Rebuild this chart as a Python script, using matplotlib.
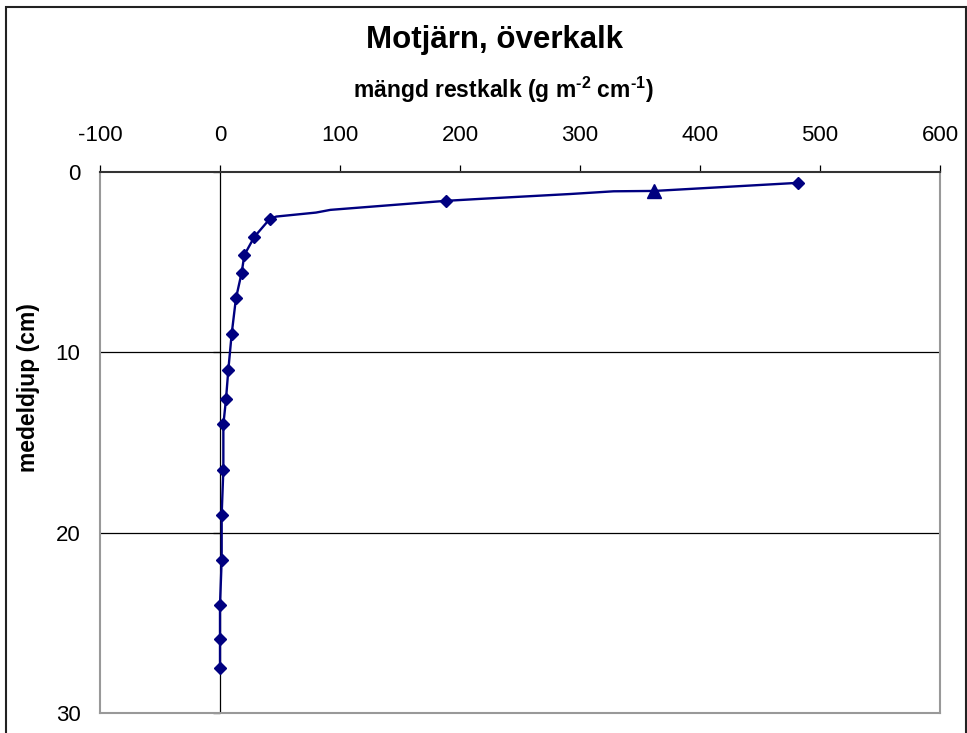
import matplotlib.pyplot as plt
import matplotlib.patches as patches
from matplotlib.markers import TICKLEFT
import numpy as np

plt.rcParams['font.family'] = ['Liberation Sans', 'DejaVu Sans']
plt.rcParams['axes.unicode_minus'] = False
plt.rcParams['mathtext.fontset'] = 'custom'
plt.rcParams['mathtext.bf'] = 'Liberation Sans:bold'
plt.rcParams['mathtext.rm'] = 'Liberation Sans:bold'
plt.rcParams['mathtext.default'] = 'bf'

# measured profile (diamonds)
restkalk = [482, 188, 41.5, 28.6, 20.3, 18, 13.3, 9.7, 6.9, 5, 2.8, 2.8, 1.4, 1.4, 0, 0, 0]
djup = [0.6, 1.6, 2.6, 3.6, 4.6, 5.6, 7.0, 9.0, 11.0, 12.6, 14.0, 16.5, 19.0, 21.5, 24.0, 25.9, 27.5]

# separate sample (triangle)
restkalk_tri = [362]
djup_tri = [1.07]

# profile line
linje_x = [482, 362, 328, 292, 217, 188, 92, 80, 47, 41.5, 28.6, 20.3, 18, 13.3, 9.7,
           6.9, 5, 2.8, 2.8, 1.4, 1.4, 0, 0, 0]
linje_y = [0.6, 1.05, 1.07, 1.22, 1.49, 1.6, 2.1, 2.25, 2.47, 2.6, 3.6, 4.6, 5.6, 7.0, 9.0,
           11.0, 12.6, 14.0, 16.5, 19.0, 21.5, 24.0, 25.9, 27.5]

xticks = [-100, 0, 100, 200, 300, 400, 500, 600]
yticks = [0, 10, 20, 30]

navy = '#000080'
gray = '#999999'

fig = plt.figure(figsize=(9.67, 7.33), dpi=100)
ax = fig.add_axes([100/967, 1 - 713/733, 840/967, 541/733])

ax.plot(linje_x, linje_y, color=navy, lw=1.7, zorder=3)
ax.plot(restkalk, djup, linestyle='none', marker='D', markersize=6.6, color=navy, zorder=4)
ax.plot(restkalk_tri, djup_tri, linestyle='none', marker='^', markersize=9.5, color=navy, zorder=4)

ax.set_xlim(-100, 600)
ax.set_ylim(30, 0)
ax.set_xticks(xticks)
ax.set_yticks(yticks)

# horizontal gridlines and vertical zero axis
for y in yticks[1:-1]:
    ax.axhline(y, color='black', lw=0.9, zorder=1)
ax.axvline(0, color='black', lw=0.9, zorder=1)
ax.plot(np.zeros(len(yticks)), yticks, linestyle='none', marker=TICKLEFT,
        markersize=5, markeredgewidth=0.9, color='black', clip_on=False, zorder=2)

ax.xaxis.tick_top()
ax.xaxis.set_label_position('top')
ax.tick_params(axis='x', direction='out', length=5, width=0.9, pad=14, labelsize=16, colors='black')
ax.tick_params(axis='y', length=0, pad=14, labelsize=16)

for side in ['left', 'right', 'bottom']:
    ax.spines[side].set_color(gray)
    ax.spines[side].set_linewidth(1.5)
ax.spines['top'].set_color('#333333')
ax.spines['top'].set_linewidth(1.5)

ax.set_xlabel(r'mängd restkalk (g m$^{\text{-2}}$ cm$^{\text{-1}}$)', fontsize=16.5, fontweight='bold', va='center')
ax.xaxis.set_label_coords(403/840, 1 + 82/541)
ax.set_ylabel('medeldjup (cm)', fontsize=16.5, fontweight='bold', va='center')
ax.yaxis.set_label_coords(-71/840, 1 - (388 - 172)/541)

fig.text(494/967, 1 - 40/733, 'Motjärn, överkalk', fontsize=22.5, fontweight='bold',
         ha='center', va='center')

# outer chart frame
fig.patches.append(patches.Rectangle((6/967, -0.02), 960/967, 1.02 - 7/733, transform=fig.transFigure,
                                     fill=False, edgecolor='#222222', lw=1.5))

fig.savefig('out.png', dpi=100)
